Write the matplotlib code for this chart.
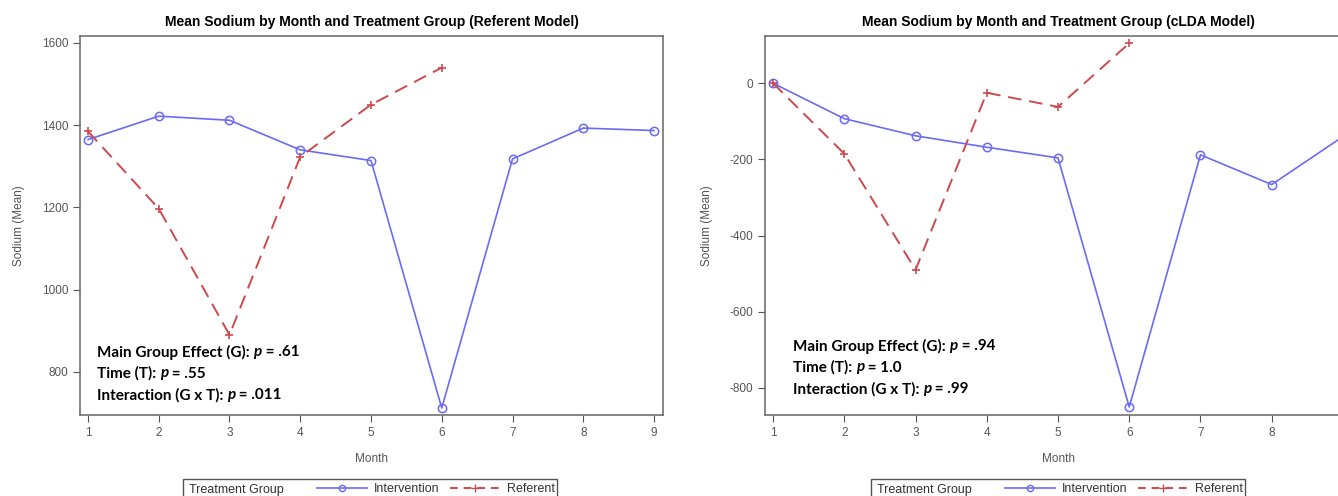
import matplotlib
matplotlib.use("Agg")
from matplotlib import pyplot as plt
from matplotlib.lines import Line2D
from matplotlib.patches import Rectangle

plt.rcParams["axes.unicode_minus"] = False

months = [1, 2, 3, 4, 5, 6, 7, 8, 9]
ref_months = [1, 2, 3, 4, 5, 6]

# referent model
ref_interv = [1365, 1422, 1412, 1340, 1314, 712, 1318, 1393, 1387]
ref_refer = [1385, 1197, 890, 1323, 1450, 1540]
ref_yticks = [800, 1000, 1200, 1400, 1600]
ref_stats = [("Main Group Effect (G): ", ".61"), ("Time (T): ", ".55"),
             ("Interaction (G x T): ", ".011")]

# cLDA model
clda_interv = [0, -93, -138, -168, -196, -850, -188, -266, -140]
clda_refer = [0, -185, -490, -25, -62, 105]
clda_yticks = [-800, -600, -400, -200, 0]
clda_stats = [("Main Group Effect (G): ", ".94"), ("Time (T): ", "1.0"),
              ("Interaction (G x T): ", ".99")]

BLUE = "#6b6bf5"
RED = "#cc4a4e"
GREY = "#555555"
SANS = ["Liberation Sans", "DejaVu Sans"]
STATFONT = ["Lato", "DejaVu Sans"]

W, H = 1338, 496
fig = plt.figure(figsize=(W / 100, H / 100), dpi=100)


def fx(px):
    return px / W


def fy(py):
    return 1 - py / H


def panel(x0, x1, title, interv, refer, yticks, ylim, stats, stat_xy, leg_x):
    ax = fig.add_axes([fx(x0), fy(415), fx(x1) - fx(x0), fy(36) - fy(415)])
    ax.plot(months, interv, color=BLUE, lw=1.2, marker="o", ms=6,
            mfc="none", mec=BLUE, mew=1.1, zorder=3)
    ax.plot(ref_months, refer, color=RED, lw=1.4, ls=(0, (7, 4)),
            marker="+", ms=6, mew=1.2, zorder=3)
    ax.set_xlim(0.887, 9.127)
    ax.set_ylim(*ylim)
    ax.set_xticks(months)
    ax.set_yticks(yticks)
    ax.tick_params(direction="out", length=5, color=GREY, labelcolor=GREY,
                   labelsize=8.5, top=False, right=False)
    for lab in ax.get_xticklabels() + ax.get_yticklabels():
        lab.set_family(SANS)
    for s in ax.spines.values():
        s.set_color("#666666")
        s.set_linewidth(1.1)
    ax.set_title(title, fontsize=10, fontweight="bold", family=SANS, pad=7)
    ax.set_xlabel("Month", fontsize=8.5, color=GREY, family=SANS, labelpad=10)
    ax.set_ylabel("Sodium (Mean)", fontsize=8.5, color=GREY, family=SANS, labelpad=12)

    sx, sy = stat_xy
    for i, (lab, val) in enumerate(stats):
        y = fy(sy + i * 21.5)
        t = fig.text(fx(sx), y, lab, fontsize=11, fontweight="bold",
                     family=STATFONT, va="center")
        fig.canvas.draw()
        bb = t.get_window_extent()
        t2 = fig.text(bb.x1 / W, y, "p", fontsize=11, fontweight="bold",
                      style="italic", family=STATFONT, va="center")
        bb2 = t2.get_window_extent()
        fig.text(bb2.x1 / W, y, " = " + val, fontsize=11, fontweight="bold",
                 family=STATFONT, va="center")

    # legend strip
    fig.patches.append(Rectangle((fx(leg_x), fy(500)), fx(374), fy(479) - fy(500),
                                 transform=fig.transFigure, fill=False,
                                 ec="#555555", lw=1.0))
    fig.text(fx(leg_x + 6), fy(489.5), "Treatment Group", fontsize=9,
             color="#333333", family=SANS, va="center")
    handles = [Line2D([], [], color=BLUE, lw=1.2, marker="o", ms=4.5,
                      mfc="none", mec=BLUE),
               Line2D([], [], color=RED, lw=1.4, ls=(0, (4, 3)), marker="+",
                      ms=6)]
    fig.legend(handles, ["Intervention", "Referent"], loc="center left",
               bbox_to_anchor=(fx(leg_x + 128), fy(489.5)), ncol=2,
               frameon=False, handlelength=4.0,
               handletextpad=0.5, columnspacing=0.9, borderpad=0,
               prop={"family": SANS, "size": 9},
               labelcolor="#333333")
    return ax


panel(80, 663, "Mean Sodium by Month and Treatment Group (Referent Model)",
      ref_interv, ref_refer, ref_yticks, (695, 1617), ref_stats, (97, 352), 183)
panel(765, 1352, "Mean Sodium by Month and Treatment Group (cLDA Model)",
      clda_interv, clda_refer, clda_yticks, (-871, 124), clda_stats, (793, 346), 871)

fig.savefig("out.png", dpi=100)
